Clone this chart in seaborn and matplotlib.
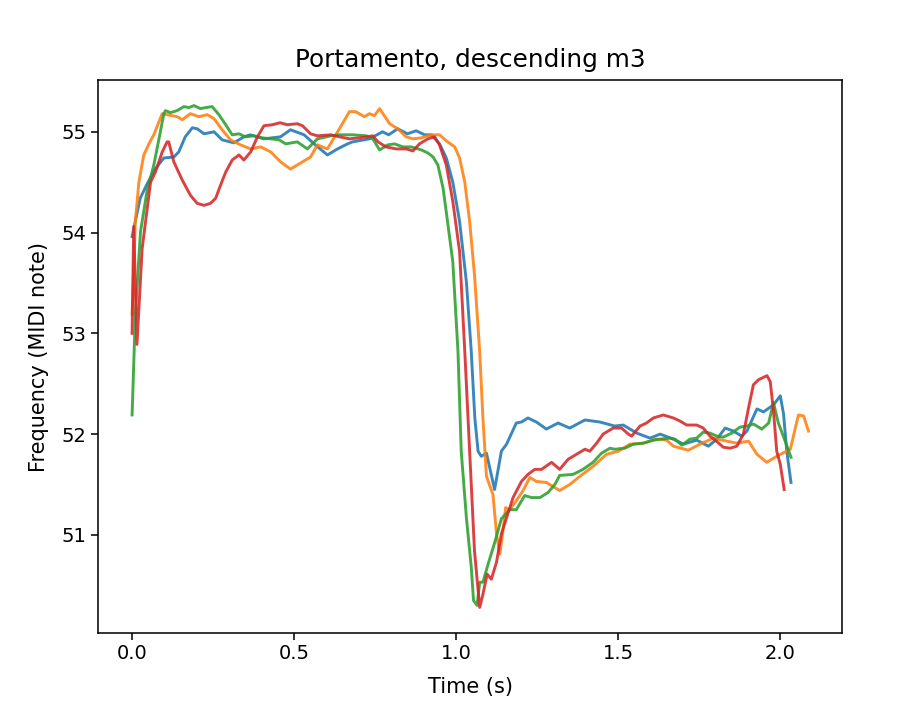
import numpy as np
import pandas as pd
import matplotlib
matplotlib.use("Agg")
import matplotlib.pyplot as plt
import seaborn as sns

# ---- data (time in s, pitch in MIDI note) ----
t_blue = [0.0, 0.025, 0.046, 0.071, 0.098, 0.129, 0.144, 0.164, 0.186, 0.201, 0.222, 0.253, 0.278,
          0.314, 0.345, 0.365, 0.407, 0.458, 0.489, 0.531, 0.562, 0.603, 0.634, 0.665, 0.681, 0.733,
          0.773, 0.792, 0.820, 0.850, 0.877, 0.903, 0.924, 0.949, 0.970, 0.990, 1.011, 1.032, 1.047,
          1.058, 1.068, 1.078, 1.094, 1.119, 1.140, 1.156, 1.186, 1.202, 1.222, 1.248, 1.279, 1.315,
          1.351, 1.398, 1.444, 1.490, 1.516, 1.558, 1.599, 1.630, 1.671, 1.702, 1.743, 1.779, 1.805,
          1.831, 1.856, 1.882, 1.898, 1.929, 1.949, 1.980, 2.001, 2.011, 2.021, 2.034]
v_blue = [53.96, 54.34, 54.48, 54.63, 54.74, 54.75, 54.80, 54.95, 55.04, 55.03, 54.98, 55.00, 54.92,
          54.89, 54.95, 54.97, 54.93, 54.95, 55.02, 54.97, 54.88, 54.77, 54.83, 54.88, 54.90, 54.93,
          55.00, 54.97, 55.03, 54.98, 55.01, 54.97, 54.97, 54.88, 54.74, 54.50, 54.11, 53.51, 52.82,
          52.16, 51.83, 51.78, 51.81, 51.45, 51.83, 51.90, 52.11, 52.12, 52.16, 52.12, 52.05, 52.11,
          52.06, 52.14, 52.12, 52.08, 52.09, 52.01, 51.96, 52.00, 51.95, 51.90, 51.94, 51.88, 51.95,
          52.06, 52.03, 51.98, 52.03, 52.25, 52.22, 52.29, 52.38, 52.20, 51.83, 51.52]

t_orange = [0.0, 0.010, 0.021, 0.036, 0.052, 0.067, 0.083, 0.093, 0.108, 0.139, 0.155, 0.180, 0.206,
            0.232, 0.253, 0.278, 0.304, 0.335, 0.366, 0.397, 0.428, 0.459, 0.489, 0.520, 0.551, 0.572,
            0.603, 0.640, 0.671, 0.690, 0.717, 0.733, 0.748, 0.764, 0.795, 0.820, 0.846, 0.867, 0.893,
            0.924, 0.949, 0.970, 0.996, 1.011, 1.027, 1.042, 1.057, 1.073, 1.083, 1.094, 1.114, 1.125,
            1.135, 1.145, 1.153, 1.166, 1.186, 1.207, 1.228, 1.248, 1.279, 1.320, 1.351, 1.382, 1.423,
            1.465, 1.501, 1.537, 1.578, 1.619, 1.650, 1.671, 1.717, 1.753, 1.794, 1.836, 1.867, 1.903,
            1.929, 1.959, 1.990, 2.032, 2.057, 2.073, 2.088]
v_orange = [53.19, 54.11, 54.50, 54.77, 54.88, 54.97, 55.10, 55.18, 55.17, 55.15, 55.12, 55.18, 55.15,
            55.17, 55.13, 55.02, 54.92, 54.87, 54.83, 54.85, 54.80, 54.70, 54.63, 54.69, 54.75, 54.87,
            54.83, 55.03, 55.20, 55.20, 55.15, 55.18, 55.16, 55.23, 55.08, 55.03, 54.95, 54.93, 54.94,
            54.97, 54.97, 54.91, 54.85, 54.74, 54.50, 54.11, 53.58, 52.82, 52.16, 51.58, 51.40, 51.01,
            50.81, 51.04, 51.27, 51.25, 51.34, 51.44, 51.57, 51.53, 51.52, 51.44, 51.50, 51.58, 51.68,
            51.80, 51.83, 51.90, 51.91, 51.95, 51.94, 51.88, 51.84, 51.90, 51.96, 51.93, 51.91, 51.93,
            51.80, 51.72, 51.78, 51.85, 52.19, 52.18, 52.03]

t_green = [0.0, 0.010, 0.026, 0.046, 0.067, 0.083, 0.098, 0.103, 0.118, 0.139, 0.160, 0.175, 0.191,
           0.211, 0.227, 0.247, 0.268, 0.289, 0.309, 0.330, 0.350, 0.376, 0.402, 0.428, 0.454, 0.474,
           0.510, 0.541, 0.572, 0.613, 0.640, 0.681, 0.723, 0.743, 0.764, 0.789, 0.810, 0.836, 0.862,
           0.893, 0.913, 0.929, 0.944, 0.960, 0.975, 0.990, 1.006, 1.016, 1.032, 1.047, 1.054, 1.065,
           1.073, 1.083, 1.099, 1.119, 1.140, 1.166, 1.186, 1.212, 1.233, 1.259, 1.284, 1.305, 1.320,
           1.361, 1.392, 1.423, 1.449, 1.475, 1.490, 1.521, 1.547, 1.578, 1.609, 1.630, 1.660, 1.676,
           1.697, 1.722, 1.743, 1.763, 1.784, 1.805, 1.825, 1.851, 1.877, 1.898, 1.918, 1.944, 1.965,
           1.980, 1.995, 2.016, 2.034]
v_green = [52.19, 53.19, 54.01, 54.41, 54.67, 54.93, 55.18, 55.21, 55.19, 55.21, 55.25, 55.24, 55.26,
           55.23, 55.24, 55.25, 55.17, 55.07, 54.97, 54.98, 54.95, 54.96, 54.94, 54.93, 54.92, 54.88,
           54.90, 54.83, 54.93, 54.96, 54.97, 54.97, 54.96, 54.93, 54.82, 54.87, 54.88, 54.85, 54.85,
           54.82, 54.79, 54.75, 54.67, 54.44, 54.08, 53.71, 52.82, 51.83, 51.17, 50.68, 50.35, 50.30,
           50.53, 50.53, 50.71, 50.92, 51.16, 51.25, 51.25, 51.39, 51.37, 51.37, 51.42, 51.50, 51.59,
           51.60, 51.65, 51.72, 51.81, 51.86, 51.85, 51.86, 51.90, 51.91, 51.94, 51.95, 51.96, 51.95,
           51.89, 51.95, 51.96, 52.02, 52.01, 51.98, 51.97, 52.01, 52.07, 52.08, 52.10, 52.05, 52.11,
           52.31, 52.11, 51.93, 51.77]

t_red = [0.0, 0.005, 0.015, 0.031, 0.057, 0.072, 0.093, 0.108, 0.113, 0.129, 0.155, 0.180, 0.201,
         0.222, 0.242, 0.258, 0.273, 0.289, 0.309, 0.330, 0.345, 0.366, 0.387, 0.407, 0.433, 0.457,
         0.479, 0.510, 0.526, 0.551, 0.572, 0.613, 0.640, 0.671, 0.702, 0.743, 0.759, 0.784, 0.815,
         0.846, 0.867, 0.887, 0.913, 0.934, 0.949, 0.970, 0.990, 1.011, 1.027, 1.042, 1.057, 1.073,
         1.083, 1.096, 1.109, 1.125, 1.140, 1.156, 1.176, 1.202, 1.222, 1.243, 1.264, 1.295, 1.320,
         1.346, 1.372, 1.398, 1.413, 1.434, 1.454, 1.485, 1.511, 1.532, 1.542, 1.568, 1.588, 1.609,
         1.640, 1.671, 1.691, 1.712, 1.743, 1.763, 1.784, 1.800, 1.825, 1.846, 1.867, 1.887, 1.903,
         1.918, 1.934, 1.960, 1.970, 1.980, 1.990, 2.001, 2.013]
v_red = [53.00, 54.06, 52.89, 53.84, 54.50, 54.60, 54.80, 54.90, 54.90, 54.70, 54.52, 54.37, 54.29,
         54.27, 54.29, 54.34, 54.47, 54.60, 54.72, 54.77, 54.72, 54.80, 54.95, 55.06, 55.07, 55.09,
         55.07, 55.08, 55.06, 54.98, 54.96, 54.97, 54.95, 54.93, 54.94, 54.96, 54.90, 54.85, 54.83,
         54.83, 54.81, 54.88, 54.93, 54.95, 54.87, 54.67, 54.31, 53.81, 52.82, 51.83, 50.84, 50.28,
         50.41, 50.61, 50.56, 50.73, 51.01, 51.17, 51.37, 51.53, 51.60, 51.65, 51.65, 51.72, 51.65,
         51.75, 51.80, 51.85, 51.83, 51.91, 52.00, 52.06, 52.06, 52.00, 51.98, 52.08, 52.11, 52.16,
         52.19, 52.16, 52.13, 52.09, 52.09, 52.06, 51.98, 51.94, 51.87, 51.86, 51.88, 52.00, 52.26,
         52.49, 52.54, 52.58, 52.52, 52.23, 51.83, 51.70, 51.45]

series_names = ["take 1", "take 2", "take 3", "take 4"]
times = [t_blue, t_orange, t_green, t_red]
values = [v_blue, v_orange, v_green, v_red]

frames = []
for name, t, v in zip(series_names, times, values):
    frames.append(pd.DataFrame({"time": t, "midi": v, "take": name}))
df = pd.concat(frames, ignore_index=True)

S = 1.4
plt.rcParams.update({
    "font.family": ["DejaVu Sans"],
    "font.size": 10 * S,
    "axes.linewidth": 0.8 * S,
    "xtick.major.size": 3.5 * S,
    "ytick.major.size": 3.5 * S,
    "xtick.major.width": 0.8 * S,
    "ytick.major.width": 0.8 * S,
    "xtick.labelsize": 14,
    "ytick.labelsize": 14,
    "axes.titlesize": 17.8,
    "axes.labelsize": 15,
})

fig = plt.figure(figsize=(9.1, 7.2), dpi=100)
ax = fig.add_axes([0.108, 0.1215, 0.8176, 0.7667])

palette = dict(zip(series_names, sns.color_palette("tab10", 4)))
sns.lineplot(data=df, x="time", y="midi", hue="take", palette=palette,
             estimator=None, sort=False, legend=False, linewidth=1.5 * S,
             alpha=0.88, ax=ax)

ax.set_xticks([0.0, 0.5, 1.0, 1.5, 2.0])
ax.set_yticks([51, 52, 53, 54, 55])
ax.set_xlabel("Time (s)", labelpad=10)
ax.set_ylabel("Frequency (MIDI note)", labelpad=9)
ax.set_title("Portamento, descending m3", pad=10)

fig.savefig("out.png", dpi=100)
